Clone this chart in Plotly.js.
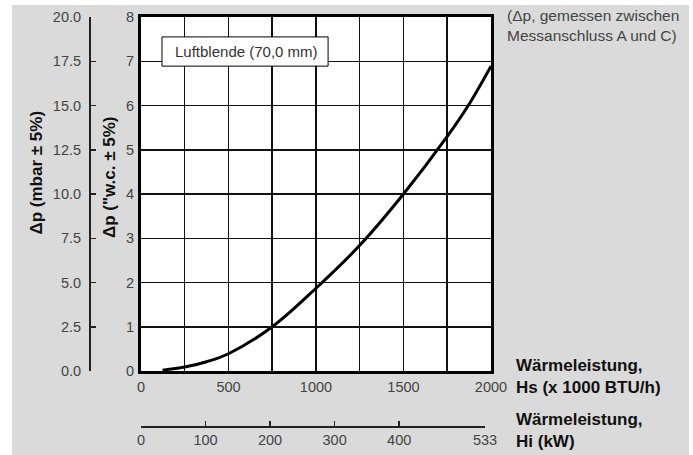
<!DOCTYPE html>
<html><head><meta charset="utf-8">
<script src="https://cdn.plot.ly/plotly-3.0.1.min.js"></script>
<style>
html,body{margin:0;padding:0;background:#fff;}
#chart{position:absolute;left:12px;top:5px;width:677px;height:450px;}
</style></head><body><div id="chart"></div>
<script>
// Data
const heatBTU = [123, 250, 375, 500, 750, 1000, 1250, 1500, 1750, 1870, 2000];
const dpWC    = [0.02, 0.09, 0.21, 0.39, 1.0, 1.87, 2.84, 4.0, 5.3, 6.0, 6.89];
const btuTicks  = [0, 250, 500, 750, 1000, 1250, 1500, 1750, 2000];
const btuLabels = ['0', '', '500', '', '1000', '', '1500', '', '2000'];
const wcTicks   = [0, 1, 2, 3, 4, 5, 6, 7, 8];
const mbarTicks = [0, 2.5, 5, 7.5, 10, 12.5, 15, 17.5, 20];
const kwTicks   = [0, 100, 200, 300, 400, 533];
const labelText = 'Luftblende (70,0 mm)';
const noteText  = '(Δp, gemessen zwischen<br>Messanschluss A und C)';
const titleMbar = 'Δp (mbar ± 5%)';
const titleWC   = 'Δp ("w.c. ± 5%)';
const titleHs   = 'Wärmeleistung,<br>Hs (x 1000 BTU/h)';
const titleHi   = 'Wärmeleistung,<br>Hi (kW)';

const FONT = 'Liberation Sans, Arial, Helvetica, sans-serif';
const tickFont = {family: FONT, size: 14.5, color: '#444'};
const boldFont = {family: FONT, size: 17, color: '#111', weight: 'bold'};

const traces = [
  {x: heatBTU, y: dpWC, type: 'scatter', mode: 'lines',
   line: {color: '#000', width: 3, shape: 'spline', smoothing: 1},
   hoverinfo: 'skip', showlegend: false, xaxis: 'x', yaxis: 'y'},
  {x: [0], y: [0], type: 'scatter', mode: 'markers', marker: {opacity: 0},
   hoverinfo: 'skip', showlegend: false, xaxis: 'x', yaxis: 'y2'},
  {x: [0], y: [0], type: 'scatter', mode: 'markers', marker: {opacity: 0},
   hoverinfo: 'skip', showlegend: false, xaxis: 'x2', yaxis: 'y'}
];

const layout = {
  width: 677, height: 450,
  margin: {l: 77, r: 198, t: 12, b: 29, pad: 0},
  paper_bgcolor: '#dadada',
  plot_bgcolor: 'rgba(0,0,0,0)',
  font: {family: FONT, color: '#444'},
  showlegend: false,
  xaxis: {
    domain: [0.12935, 1], range: [0, 2000],
    tickmode: 'array', tickvals: btuTicks, ticktext: btuLabels,
    showgrid: true, gridcolor: '#111', gridwidth: 1.5,
    showline: true, linecolor: '#000', linewidth: 3, mirror: true,
    ticks: 'outside', ticklen: 1, tickcolor: 'rgba(0,0,0,0)',
    zeroline: false, tickfont: tickFont, fixedrange: true
  },
  yaxis: {
    domain: [0.13447, 1], range: [0, 8],
    tickmode: 'array', tickvals: wcTicks,
    showgrid: true, gridcolor: '#111', gridwidth: 1.5,
    showline: true, linecolor: '#000', linewidth: 3, mirror: true,
    ticks: 'outside', ticklen: 1, tickcolor: 'rgba(0,0,0,0)',
    zeroline: false, tickfont: tickFont, fixedrange: true
  },
  yaxis2: {
    overlaying: 'y', anchor: 'free', position: 0, side: 'left',
    range: [0, 20], tickmode: 'array', tickvals: mbarTicks, tickformat: '.1f',
    ticks: 'inside', ticklen: 5, tickwidth: 1.5, tickcolor: '#222',
    ticklabelstandoff: 5,
    showline: true, linecolor: '#222', linewidth: 1.5,
    showgrid: false, zeroline: false, tickfont: tickFont, fixedrange: true
  },
  xaxis2: {
    anchor: 'free', position: 0, domain: [0.12935, 0.98507],
    range: [0, 533], tickmode: 'array', tickvals: kwTicks,
    ticks: 'inside', ticklen: 5, tickwidth: 1.5, tickcolor: '#222',
    showline: true, linecolor: '#222', linewidth: 1.5,
    showgrid: false, zeroline: false, tickfont: tickFont, fixedrange: true
  },
  shapes: [
    {type: 'rect', xref: 'x', yref: 'y', x0: 0, x1: 2000, y0: 0, y1: 8,
     fillcolor: '#fff', line: {width: 0}, layer: 'below'},
    {type: 'rect', xref: 'x', yref: 'y', x0: 120, x1: 1069, y0: 6.89, y1: 7.55,
     fillcolor: '#fff', line: {color: '#000', width: 1}, layer: 'above'}
  ],
  annotations: [
    {text: labelText, xref: 'x', yref: 'y', x: 183, y: 7.22,
     xanchor: 'left', yanchor: 'middle', showarrow: false,
     font: {family: FONT, size: 15, color: '#333'}},
    {text: noteText, xref: 'paper', yref: 'paper', x: 1.0348, y: 1.029,
     xanchor: 'left', yanchor: 'top', align: 'left', showarrow: false,
     font: {family: FONT, size: 15.5, color: '#444'}},
    {text: titleMbar, xref: 'paper', yref: 'paper', x: -0.1294, y: 0.6198,
     xanchor: 'center', yanchor: 'middle', textangle: -90, showarrow: false,
     font: boldFont},
    {text: titleWC, xref: 'paper', yref: 'paper', x: 0.0498, y: 0.6088,
     xanchor: 'center', yanchor: 'middle', textangle: -90, showarrow: false,
     font: boldFont},
    {text: titleHs, xref: 'paper', yref: 'paper', x: 1.057, y: 0.1222,
     xanchor: 'left', yanchor: 'middle', align: 'left', showarrow: false,
     font: boldFont},
    {text: titleHi, xref: 'paper', yref: 'paper', x: 1.057, y: -0.011,
     xanchor: 'left', yanchor: 'middle', align: 'left', showarrow: false,
     font: boldFont}
  ]
};

Plotly.newPlot('chart', traces, layout, {displayModeBar: false, staticPlot: true});
</script></body></html>
